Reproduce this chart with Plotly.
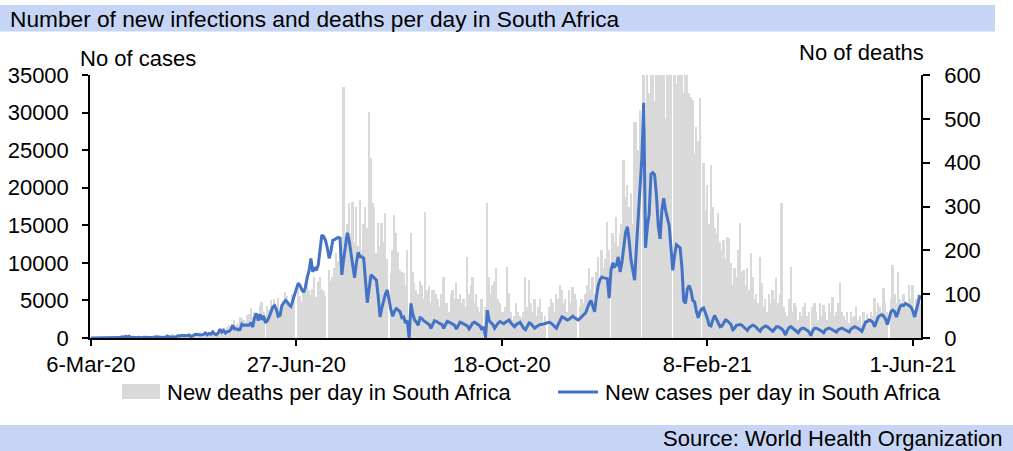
import plotly.graph_objects as go
import pandas as pd

# ---------------- data ----------------
start_date = "2020-03-06"
tick_dates = ["2020-03-06", "2020-06-27", "2020-10-18", "2021-02-08", "2021-06-01"]
tick_labels = ["6-Mar-20", "27-Jun-20", "18-Oct-20", "8-Feb-21", "1-Jun-21"]
cases_ticks = [0, 5000, 10000, 15000, 20000, 25000, 30000, 35000]
deaths_ticks = [0, 100, 200, 300, 400, 500, 600]

# New cases per day (one value per day from 6-Mar-20)
new_cases = [
    1, 0, 1, 4, 6, 3, 4,
    7, 13, 24, 11, 31, 34, 54,
    38, 48, 54, 148, 98, 218, 150,
    243, 17, 82, 46, 40, 106, 36,
    50, 84, 93, 68, 34, 51, 25,
    99, 178, 143, 86, 53, 88, 65,
    251, 124, 142, 165, 172, 144, 318,
    247, 354, 267, 322, 297, 385, 172,
    264, 447, 481, 412, 392, 424, 473,
    663, 420, 595, 511, 818, 537, 431,
    686, 1160, 783, 1007, 653, 867, 883,
    1134, 1673, 1216, 1240, 1089, 1131, 1837,
    1673, 1716, 1727, 1713, 2055, 1455, 2702,
    3267, 2312, 3147, 2430, 2948, 2022, 2300,
    2800, 3400, 4100, 4300, 3800, 2900, 3000,
    4300, 4600, 5000, 4800, 4400, 4200, 4900,
    5700, 6300, 7300, 7000, 6400, 6100, 6800,
    8100, 9000, 10600, 8800, 9400, 9000, 9700,
    12000, 13700, 13500, 13000, 12000, 10600, 11500,
    13000, 13100, 13200, 13400, 13300, 8400, 10500,
    12600, 14000, 13000, 11500, 10000, 8000, 10000,
    11400, 10800, 10800, 10600, 8000, 4700, 6500,
    8400, 8200, 7900, 7700, 5500, 2800, 4000,
    5200, 5900, 6400, 4800, 3700, 2900, 3600,
    3900, 3700, 3500, 2700, 2800, 2000, 2300,
    0, 4600, 3200, 2400, 2100, 1700, 2700,
    2600, 2300, 2100, 2000, 1800, 1300, 1900,
    2300, 2200, 2000, 1900, 1800, 1300, 1800,
    2200, 2100, 2000, 1900, 1700, 1200, 1700,
    2100, 2000, 1900, 1800, 1600, 1200, 1600,
    2000, 2100, 1900, 1700, 1600, 1100, 1500,
    0, 3700, 2300, 2000, 1800, 1300, 1700,
    2000, 2200, 2000, 1900, 2100, 2300, 2400,
    2000, 1700, 1500, 1800, 2000, 2100, 1700,
    1300, 1100, 1600, 2000, 1900, 1600, 1300,
    1500, 1700, 1800, 1800, 1900, 2000, 2100,
    2100, 2000, 1800, 1500, 1300, 1800, 2400,
    2800, 2700, 2500, 2400, 2500, 2700, 2900,
    2700, 2500, 2400, 2600, 2900, 3100, 3300,
    4000, 4600, 5000, 4200, 3500, 5500, 7000,
    7800, 8100, 8000, 7900, 7900, 5300, 9000,
    10000, 9500, 9700, 10800, 8800, 10000, 12000,
    14000, 14800, 13000, 10400, 9000, 7700, 12000,
    16000, 18500, 24000, 31300, 12000, 14800, 16500,
    21800, 22000, 21700, 19000, 15000, 13200, 17000,
    18600, 17000, 15800, 15000, 12000, 9000, 11000,
    12400, 12200, 12000, 9500, 5000, 4600, 6500,
    7000, 6300, 5000, 4800, 3500, 2700, 3500,
    3900, 4000, 3400, 2600, 1700, 1600, 2400,
    3000, 2500, 2000, 1500, 1600, 2100, 2400,
    2300, 2100, 1800, 1100, 1300, 1700, 1800,
    1800, 1700, 1500, 1200, 1000, 1400, 1600,
    1700, 1600, 1400, 1100, 900, 1300, 1500,
    1600, 1500, 1300, 1000, 900, 1200, 1500,
    1500, 1400, 1200, 900, 400, 1000, 1400,
    1500, 1300, 1200, 1000, 700, 1100, 1300,
    1300, 1200, 1000, 800, 300, 1000, 1300,
    1300, 1200, 1000, 900, 700, 1100, 1200,
    1300, 1200, 1100, 1000, 800, 1100, 1200,
    1300, 1200, 1100, 1000, 800, 1200, 1300,
    1500, 1400, 1300, 1100, 900, 1500, 2100,
    2200, 2400, 2300, 2100, 1500, 2300, 2800,
    3000, 3100, 2900, 2500, 1800, 2800, 3500,
    3700, 3500, 2800, 3600, 4200, 4400, 4300,
    4600, 4500, 4300, 4100, 3600, 2800, 3900,
    4700, 5700,
]

# New deaths per day (one value per day from 6-Mar-20)
new_deaths = [
    0, 0, 0, 0, 0, 0, 0,
    0, 0, 0, 0, 0, 0, 0,
    0, 0, 0, 0, 0, 0, 0,
    1, 1, 0, 0, 2, 0, 1,
    2, 0, 2, 0, 1, 3, 2,
    7, 2, 3, 0, 5, 4, 2,
    2, 6, 4, 8, 4, 6, 7,
    7, 6, 10, 5, 9, 12, 3,
    8, 6, 10, 11, 13, 10, 12,
    15, 8, 10, 13, 12, 9, 12,
    17, 14, 19, 22, 18, 25, 30,
    27, 32, 40, 29, 35, 48, 46,
    40, 36, 52, 54, 68, 47, 60,
    55, 51, 73, 82, 60, 0, 72,
    64, 86, 75, 90, 68, 92, 54,
    71, 84, 106, 95, 70, 78, 100,
    103, 0, 118, 95, 82, 110, 125,
    125, 110, 99, 112, 140, 93, 128,
    140, 112, 108, 95, 0, 155, 130,
    140, 160, 194, 175, 194, 150, 572,
    200, 260, 308, 240, 310, 220, 300,
    210, 315, 200, 260, 300, 250, 515,
    410, 307, 300, 193, 262, 210, 262,
    220, 285, 180, 0, 148, 200, 281,
    240, 197, 155, 150, 148, 120, 200,
    0, 239, 150, 125, 110, 100, 130,
    120, 90, 288, 109, 118, 80, 110,
    110, 100, 90, 70, 100, 140, 80,
    80, 60, 100, 110, 90, 125, 90,
    100, 80, 90, 70, 185, 100, 120,
    140, 80, 100, 70, 60, 90, 0,
    70, 308, 140, 100, 120, 130, 160,
    90, 80, 60, 60, 70, 163, 102,
    60, 40, 50, 80, 60, 50, 45,
    60, 140, 70, 132, 80, 60, 90,
    50, 70, 90, 60, 30, 50, 0,
    70, 90, 80, 60, 100, 90, 120,
    110, 80, 90, 60, 110, 80, 116,
    100, 90, 0, 70, 90, 80, 100,
    120, 159, 110, 140, 100, 150, 185,
    130, 200, 160, 180, 265, 200, 0,
    240, 220, 277, 210, 240, 260, 406,
    322, 350, 300, 330, 260, 492, 493,
    429, 520, 0, 650, 480, 700, 560,
    700, 620, 540, 680, 750, 720, 600,
    640, 500, 700, 680, 650, 0, 700,
    580, 650, 700, 620, 559, 620, 650,
    560, 550, 543, 420, 482, 450, 548,
    0, 400, 292, 350, 260, 395, 300,
    250, 240, 285, 220, 200, 224, 180,
    230, 228, 170, 120, 160, 140, 200,
    262, 150, 155, 120, 160, 110, 194,
    140, 90, 100, 80, 185, 125, 70,
    90, 60, 100, 80, 110, 90, 137,
    80, 100, 308, 70, 60, 50, 90,
    162, 60, 80, 70, 40, 60, 50,
    70, 80, 50, 60, 0, 70, 80,
    60, 40, 80, 50, 75, 60, 40,
    80, 60, 94, 50, 60, 80, 128,
    60, 50, 40, 60, 35, 60, 45,
    50, 70, 40, 50, 30, 60, 40,
    55, 45, 60, 50, 91, 60, 80,
    70, 60, 114, 80, 60, 0, 90,
    167, 100, 80, 151, 90, 80, 100,
    70, 80, 121, 90, 121, 60, 90,
    100, 80,
]

assert len(new_cases) == len(new_deaths)

deaths_name = "New deaths per day in South Africa"
cases_name = "New cases per day in South Africa"
title_text = "Number of new infections and deaths per day in South Africa"
source_text = "Source: World Health Organization"

# ---------------- layout geometry (pixels) ----------------
W_FIG, H_FIG = 1013, 451
L, R, T, B = 90, 92, 75, 113
PW = W_FIG - L - R
PH = H_FIG - T - B


def px_x(px):
    return (px - L) / PW


def px_y(py):
    return (T + PH - py) / PH


FONT = "Liberation Sans, Arial, sans-serif"
FS = 22
BAND = "#c6d5f5"
GREY = "#d9d9d9"
BLUE = "#4472c4"

dates = pd.date_range(start_date, periods=len(new_cases), freq="D")

fig = go.Figure()
fig.add_trace(go.Bar(
    x=dates, y=new_deaths, name=deaths_name, yaxis="y",
    marker=dict(color=GREY, line=dict(width=0)), showlegend=False,
))
fig.add_trace(go.Scatter(
    x=dates, y=new_cases, name=cases_name, yaxis="y2", mode="lines",
    line=dict(color=BLUE, width=3), showlegend=False,
))

axis_common = dict(
    showgrid=False, zeroline=False, showline=True, linecolor="black",
    linewidth=1.5, ticks="outside", tickcolor="black", tickwidth=1.5,
    automargin=False,
    tickfont=dict(family=FONT, size=FS, color="black"),
)

fig.update_layout(
    width=W_FIG, height=H_FIG,
    margin=dict(l=L, r=R, t=T, b=B, pad=0, autoexpand=False),
    paper_bgcolor="white", plot_bgcolor="white",
    bargap=0,
    font=dict(family=FONT, size=FS, color="black"),
    xaxis=dict(
        type="date",
        range=[dates[0] - pd.Timedelta(hours=12), dates[-1] + pd.Timedelta(hours=12)],
        tickmode="array", tickvals=tick_dates, ticktext=tick_labels,
        ticklen=6, ticklabelstandoff=0, **axis_common,
    ),
    yaxis=dict(
        side="right", range=[0, 600], tickmode="array", tickvals=deaths_ticks,
        ticklen=7, ticklabelstandoff=10, **axis_common,
    ),
    yaxis2=dict(
        side="left", overlaying="y", range=[0, 35000], tickmode="array",
        tickvals=cases_ticks, tickformat="d",
        ticklen=6, ticklabelstandoff=9, **axis_common,
    ),
    shapes=[
        # title band
        dict(type="rect", xref="paper", yref="paper", layer="below",
             x0=px_x(0), x1=px_x(995), y0=px_y(31.5), y1=px_y(5),
             fillcolor=BAND, line=dict(width=0)),
        # source band
        dict(type="rect", xref="paper", yref="paper", layer="below",
             x0=px_x(0), x1=px_x(1013), y0=px_y(451), y1=px_y(425),
             fillcolor=BAND, line=dict(width=0)),
        # legend swatches
        dict(type="rect", xref="paper", yref="paper",
             x0=px_x(122), x1=px_x(160), y0=px_y(399), y1=px_y(384),
             fillcolor=GREY, line=dict(width=0)),
        dict(type="line", xref="paper", yref="paper",
             x0=px_x(558), x1=px_x(598), y0=px_y(392), y1=px_y(392),
             line=dict(color=BLUE, width=3)),
    ],
    annotations=[
        dict(text=title_text, xref="paper", yref="paper", x=px_x(8), y=px_y(19),
             xanchor="left", yanchor="middle", showarrow=False,
             font=dict(family=FONT, size=22.7, color="black")),
        dict(text="No of cases", xref="paper", yref="paper", x=px_x(78), y=px_y(58),
             xanchor="left", yanchor="middle", showarrow=False,
             font=dict(family=FONT, size=FS, color="black")),
        dict(text="No of deaths", xref="paper", yref="paper", x=px_x(926), y=px_y(52),
             xanchor="right", yanchor="middle", showarrow=False,
             font=dict(family=FONT, size=FS, color="black")),
        dict(text=deaths_name, xref="paper", yref="paper", x=px_x(165), y=px_y(392),
             xanchor="left", yanchor="middle", showarrow=False,
             font=dict(family=FONT, size=FS, color="black")),
        dict(text=cases_name, xref="paper", yref="paper", x=px_x(603), y=px_y(392),
             xanchor="left", yanchor="middle", showarrow=False,
             font=dict(family=FONT, size=FS, color="black")),
        dict(text=source_text, xref="paper", yref="paper", x=px_x(1005), y=px_y(438),
             xanchor="right", yanchor="middle", showarrow=False,
             font=dict(family=FONT, size=FS, color="black")),
    ],
)

fig.write_html(
    "out.html",
    config={"displayModeBar": False},
    post_script="document.body.style.margin='0';document.body.style.overflow='hidden';",
)
